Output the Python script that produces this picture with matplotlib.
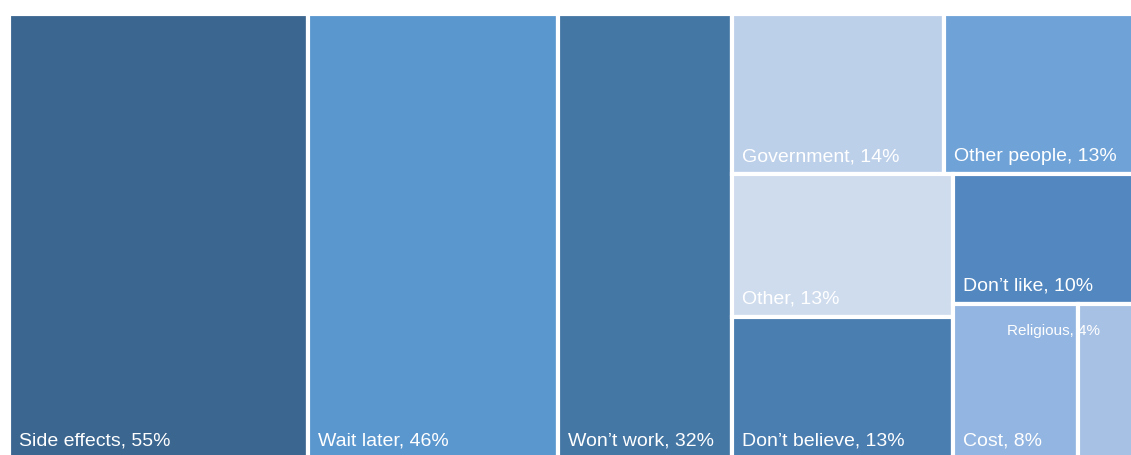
import matplotlib
matplotlib.use("Agg")
import matplotlib.pyplot as plt
from matplotlib.patches import Rectangle

plt.rcParams["font.family"] = ["Liberation Sans", "DejaVu Sans"]

# Reasons for not wanting the vaccine (% of respondents)
labels = ["Side effects", "Wait later", "Won\u2019t work", "Government", "Other people",
          "Other", "Don\u2019t believe", "Don\u2019t like", "Cost", "Religious"]
values = [55, 46, 32, 14, 13, 13, 13, 10, 8, 4]
colors = ["#3B668F", "#5B97CF", "#4577A5", "#BDD0EA", "#6FA3D8",
          "#CFDCEE", "#4A7DB0", "#5287BF", "#93B5E1", "#A7C1E4"]

# Nested slice-and-dice structure: 'h' splits side by side, 'v' stacks top to bottom
tree = ("h", [0, 1, 2,
              ("v", [("h", [3, 4]),
                     ("h", [("v", [5, 6]),
                            ("v", [7, ("h", [8, 9])])])])])

W, H = 1131.0, 445.0


def weight(node):
    if isinstance(node, int):
        return values[node]
    return sum(weight(c) for c in node[1])


rects = {}


def place(node, x, y, w, h):
    if isinstance(node, int):
        rects[node] = (x, y, w, h)
        return
    direction, children = node
    total = weight(node)
    for c in children:
        frac = weight(c) / total
        if direction == "h":
            place(c, x, y, w * frac, h)
            x += w * frac
        else:
            place(c, x, y, w, h * frac)
            y += h * frac


place(tree, 0, 0, W, H)

fig = plt.figure(figsize=(11.31, 4.55), dpi=100)
ax = fig.add_axes([9 / 1131, -4 / 455, W / 1131, H / 455])
ax.set_xlim(0, W)
ax.set_ylim(H, 0)
ax.axis("off")

for i, (x, y, w, h) in rects.items():
    ax.add_patch(Rectangle((x, y), w, h, facecolor=colors[i], edgecolor="white",
                           linewidth=3, clip_on=False))
    text = f"{labels[i]}, {values[i]}%"
    if labels[i] == "Religious":
        ax.text(x + 22, y + 31, text, color="white", fontsize=11,
                ha="right", va="baseline")
    else:
        ax.text(x + 10, y + h - 13, text, color="white", fontsize=14,
                ha="left", va="baseline")

fig.savefig("out.png", dpi=100)
